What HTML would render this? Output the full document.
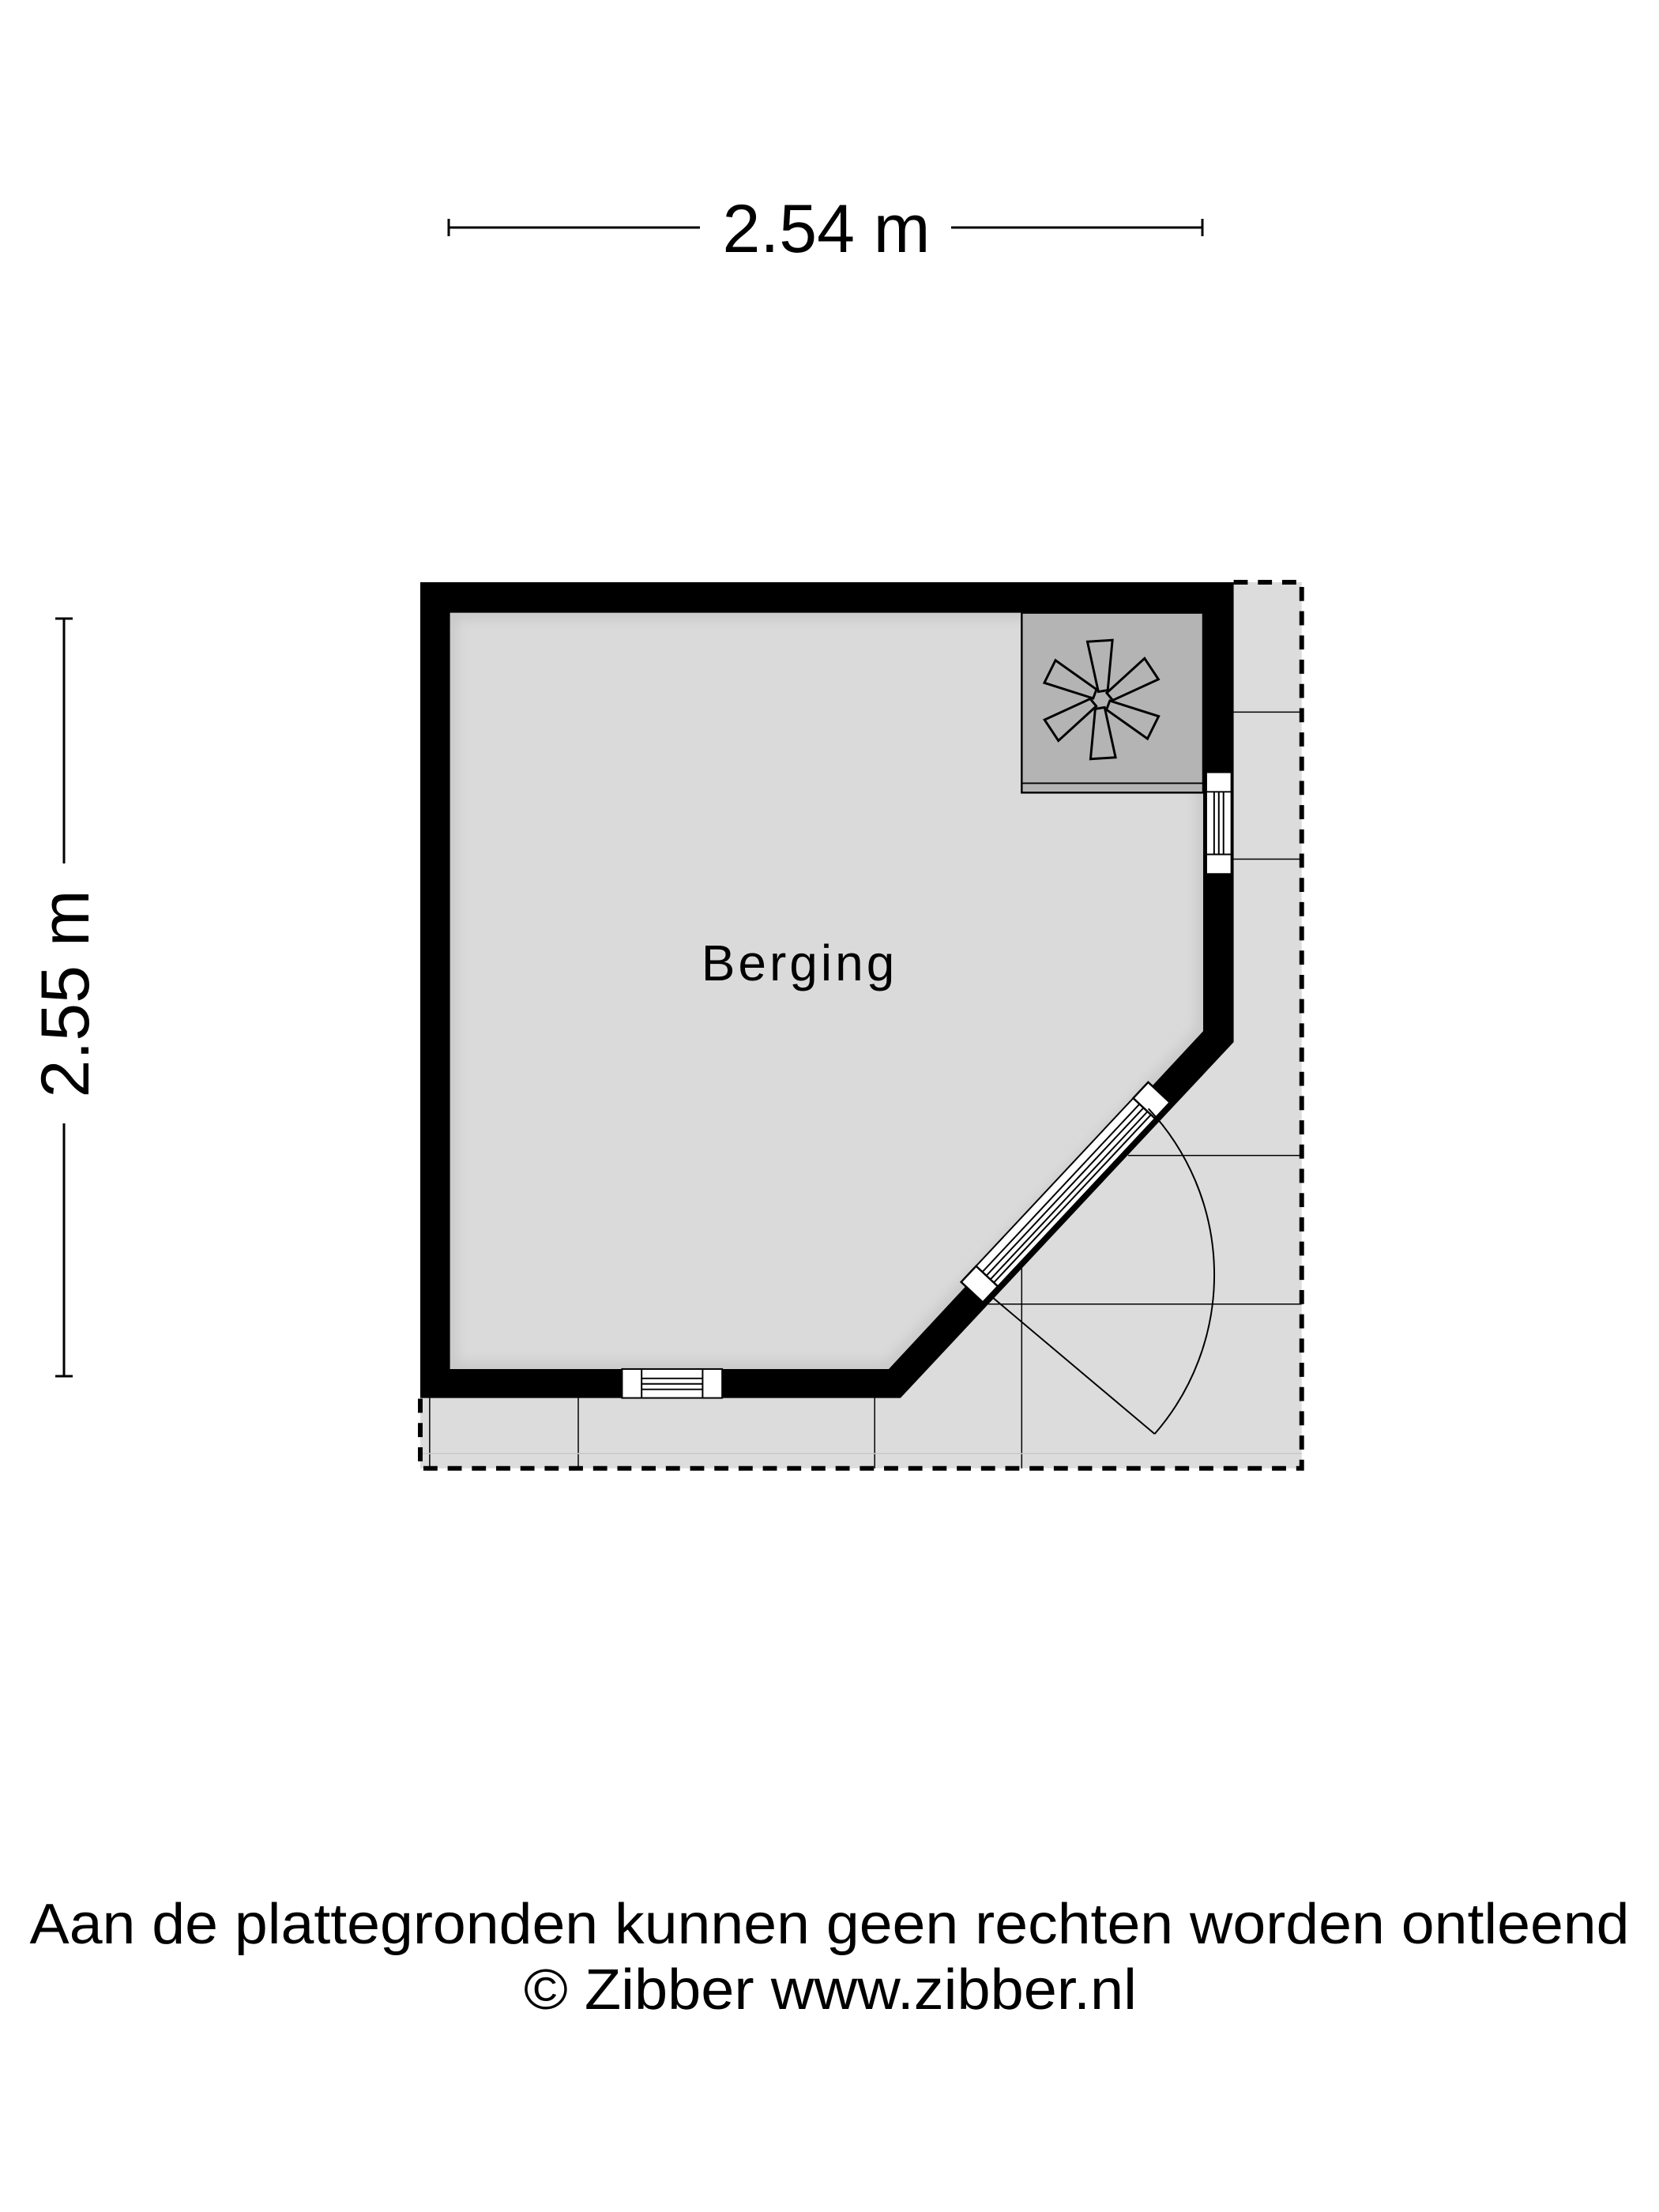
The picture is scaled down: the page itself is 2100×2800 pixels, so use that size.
<!DOCTYPE html>
<html><head><meta charset="utf-8"><style>
html,body{margin:0;padding:0;background:#fff}
svg{display:block}
text{font-family:"Liberation Sans",Arial,sans-serif;fill:#000}
</style></head><body>
<svg width="2100" height="2800" viewBox="0 0 2100 2800" xmlns="http://www.w3.org/2000/svg">
<defs>
<filter id="sh" x="-5%" y="-5%" width="110%" height="110%"><feGaussianBlur stdDeviation="8"/></filter>
</defs>
<g transform="translate(532,737) scale(0.99) translate(-532,-737)">
<polygon points="1572,737 1659,737 1659,1870 532,1870 532,1780 1146,1780 1572,1325" fill="#dcdcdc"/>
<polygon points="532,737 1572,737 1572,1325 1146,1780 532,1780" fill="#dadada"/>
<polygon points="570,776 1533,776 1533,1311 1131,1743 570,1743" fill="none" stroke="#c4c4c4" stroke-width="14" filter="url(#sh)"/>
<rect x="1301" y="776" width="232" height="230" fill="#b4b4b4" stroke="#000" stroke-width="2.5"/>
<line x1="1301" y1="994" x2="1533" y2="994" stroke="#000" stroke-width="2"/>
<g transform="translate(1403,887)" fill="none" stroke="#000" stroke-width="3">
<polygon points="-4,-10 -18,-74 14,-76 8,-12"/>
<polygon points="-4,-10 -18,-74 14,-76 8,-12" transform="rotate(60)"/>
<polygon points="-4,-10 -18,-74 14,-76 8,-12" transform="rotate(120)"/>
<polygon points="-4,-10 -18,-74 14,-76 8,-12" transform="rotate(180)"/>
<polygon points="-4,-10 -18,-74 14,-76 8,-12" transform="rotate(240)"/>
<polygon points="-4,-10 -18,-74 14,-76 8,-12" transform="rotate(300)"/>
</g>
<path fill="#000" fill-rule="evenodd" d="M532,737 L1572,737 L1572,1325 L1146,1780 L532,1780 Z M570,776 L1533,776 L1533,1311 L1131,1743 L570,1743 Z"/>
<rect x="790" y="1743" width="128" height="37" fill="#fff" stroke="#000" stroke-width="2"/>
<line x1="815" y1="1743" x2="815" y2="1780" stroke="#000" stroke-width="2"/>
<line x1="893" y1="1743" x2="893" y2="1780" stroke="#000" stroke-width="2"/>
<line x1="815" y1="1755" x2="893" y2="1755" stroke="#000" stroke-width="2"/>
<line x1="815" y1="1762" x2="893" y2="1762" stroke="#000" stroke-width="2"/>
<line x1="815" y1="1769" x2="893" y2="1769" stroke="#000" stroke-width="2"/>
<rect x="1537" y="980" width="32" height="130" fill="#fff" stroke="#000" stroke-width="2"/>
<line x1="1537" y1="1005" x2="1569" y2="1005" stroke="#000" stroke-width="2"/>
<line x1="1537" y1="1085" x2="1569" y2="1085" stroke="#000" stroke-width="2"/>
<line x1="1547" y1="1005" x2="1547" y2="1085" stroke="#000" stroke-width="2"/>
<line x1="1553" y1="1005" x2="1553" y2="1085" stroke="#000" stroke-width="2"/>
<line x1="1559" y1="1005" x2="1559" y2="1085" stroke="#000" stroke-width="2"/>
<g transform="translate(1357,1517) rotate(-46.9)">
<rect x="-175" y="-19" width="350" height="38" fill="#fff" stroke="#000" stroke-width="2"/>
<rect x="-175" y="-19" width="28" height="38" fill="#fff" stroke="#000" stroke-width="2.5"/>
<rect x="147" y="-19" width="28" height="38" fill="#fff" stroke="#000" stroke-width="2.5"/>
<line x1="-147" y1="-8" x2="147" y2="-8" stroke="#000" stroke-width="2"/>
<line x1="-147" y1="-1" x2="147" y2="-1" stroke="#000" stroke-width="2"/>
<line x1="-147" y1="6" x2="147" y2="6" stroke="#000" stroke-width="2"/>
<line x1="-147" y1="12" x2="147" y2="12" stroke="#000" stroke-width="2"/>
</g>
<g stroke="#000" stroke-width="1.5">
<line x1="1572" y1="903" x2="1659" y2="903"/>
<line x1="1572" y1="1091" x2="1659" y2="1091"/>
<line x1="1437" y1="1470" x2="1659" y2="1470"/>
<line x1="1258" y1="1660" x2="1659" y2="1660"/>
<line x1="544" y1="1780" x2="544" y2="1870"/>
<line x1="734" y1="1780" x2="734" y2="1870"/>
<line x1="1113" y1="1780" x2="1113" y2="1870"/>
<line x1="1301" y1="1613" x2="1301" y2="1870"/>
<line x1="532" y1="1851" x2="1659" y2="1851" stroke="#c8c8c8"/>
</g>
<line x1="1262" y1="1650" x2="1471" y2="1826" stroke="#000" stroke-width="2"/>
<path d="M1471,1826 A310,310 0 0 0 1463,1410" fill="none" stroke="#000" stroke-width="2"/>
<path d="M1572,737 L1659,737 L1659,1870 L532,1870 L532,1780" fill="none" stroke="#000" stroke-width="6" stroke-dasharray="18,13"/>
</g>
<text x="1012" y="1241" font-size="64" text-anchor="middle" letter-spacing="4">Berging</text>
<g stroke="#000" stroke-width="3">
<line x1="568" y1="288" x2="886" y2="288"/>
<line x1="1204" y1="288" x2="1522" y2="288"/>
<line x1="568" y1="277" x2="568" y2="299"/>
<line x1="1522" y1="277" x2="1522" y2="299"/>
<line x1="81" y1="783" x2="81" y2="1093"/>
<line x1="81" y1="1422" x2="81" y2="1742"/>
<line x1="70" y1="783" x2="92" y2="783"/>
<line x1="70" y1="1742" x2="92" y2="1742"/>
</g>
<text x="1046" y="319" font-size="86" text-anchor="middle">2.54 m</text>
<text x="0" y="0" font-size="86" text-anchor="middle" transform="translate(112,1258) rotate(-90)">2.55 m</text>
<text x="1050" y="2460" font-size="72" text-anchor="middle" textLength="2025" lengthAdjust="spacingAndGlyphs">Aan de plattegronden kunnen geen rechten worden ontleend</text>
<text x="1051" y="2543" font-size="72" text-anchor="middle" textLength="776" lengthAdjust="spacingAndGlyphs">© Zibber www.zibber.nl</text>
</svg>
</body></html>
